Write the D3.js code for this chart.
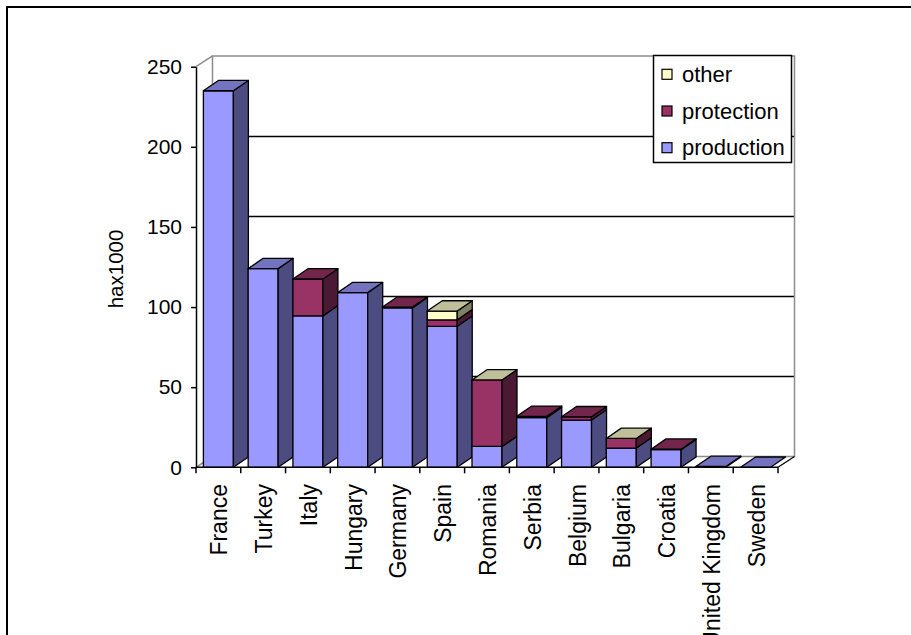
<!DOCTYPE html>
<html>
<head>
<meta charset="utf-8">
<script src="https://cdn.jsdelivr.net/npm/d3@7/dist/d3.min.js"></script>
<style>
  html, body { margin: 0; padding: 0; background: #fff; }
  svg { display: block; }
  text { font-family: Arial, "Liberation Sans", sans-serif; fill: #000; }
</style>
</head>
<body>
<svg id="chart" width="911" height="635"></svg>
<script>
// ---- data ----
const categories = ["France","Turkey","Italy","Hungary","Germany","Spain","Romania","Serbia","Belgium","Bulgaria","Croatia","United Kingdom","Sweden"];
const production = [235, 124, 94.5, 109, 99.5, 88, 13, 31, 29.5, 12, 11, 0.5, 0];
const protection = [null, null, 23, null, 0.5, 4, 41.5, 0.8, 2, 6, 0.3, null, null];
const other      = [null, null, null, null, null, 5.5, 0, null, null, 0, null, null, null];
const seriesNames = ["production", "protection", "other"];
const yTicks = [0, 50, 100, 150, 200, 250];
const yTitle = "hax1000";

// ---- styles ----
const colors = {
  production: { front: "#9999FF", side: "#4C4C80", top: "#7373BF" },
  protection: { front: "#993366", side: "#4C1933", top: "#73264C" },
  other:      { front: "#FFFFCC", side: "#808066", top: "#BFBF99" }
};
const seriesData = { production, protection, other };

const svg = d3.select("#chart");

// outer border
svg.append("rect").attr("x", 7).attr("y", 7).attr("width", 1000).attr("height", 1000)
  .attr("fill", "none").attr("stroke", "#000").attr("stroke-width", 2);

const x0 = 196, x1 = 778;
const y = d3.scaleLinear().domain([0, 250]).range([467.3, 66.7]);
const x = d3.scaleBand().domain(categories).range([x0, x1]).paddingInner(0.33).paddingOuter(0.165);
const wall = { dx: 16.5, dy: -10.8 };
const bar = { dx: 15, dy: -10.3 };

const g = svg.append("g");

// back wall
const wx0 = x0 + wall.dx, wx1 = x1 + wall.dx;
g.append("rect").attr("x", wx0).attr("y", y(250) + wall.dy).attr("width", wx1 - wx0)
  .attr("height", y(0) - y(250)).attr("fill", "#fff");
// gridlines
g.selectAll("line.grid").data(yTicks.filter(t => t > 0 && t < 250)).enter().append("line")
  .attr("x1", wx0).attr("x2", wx1)
  .attr("y1", d => Math.round(y(d) + wall.dy) + 0.5).attr("y2", d => Math.round(y(d) + wall.dy) + 0.5)
  .attr("stroke", "#000").attr("stroke-width", 1.3);
// wall outline (gray)
const gray = "#8c8c8c";
const wallPath = d3.path();
wallPath.moveTo(wx0, y(0) + wall.dy); wallPath.lineTo(wx0, y(250) + wall.dy);
wallPath.lineTo(wx1, y(250) + wall.dy); wallPath.lineTo(wx1, y(0) + wall.dy);
wallPath.lineTo(wx0, y(0) + wall.dy);
g.append("path").attr("d", wallPath.toString()).attr("fill", "none").attr("stroke", gray).attr("stroke-width", 1.5);
// side diagonals at top-left and bottom-left
[250, 0].forEach(t => {
  g.append("line").attr("x1", x0).attr("y1", y(t)).attr("x2", wx0).attr("y2", y(t) + wall.dy)
    .attr("stroke", gray).attr("stroke-width", 1.5);
});
// floor right edge
g.append("line").attr("x1", x1).attr("y1", y(0)).attr("x2", wx1).attr("y2", y(0) + wall.dy)
  .attr("stroke", "#000").attr("stroke-width", 1.2);

// bars
const poly = pts => "M" + pts.map(p => p.join(",")).join("L") + "Z";
const bw = x.bandwidth();
categories.forEach((c, i) => {
  const bx = x(c);
  const segs = [];
  let base = 0;
  seriesNames.forEach(s => {
    const v = seriesData[s][i];
    if (v === null || v === undefined) return;
    segs.push({ s, y0: base, y1: base + v });
    base += v;
  });
  const bg = g.append("g");
  segs.forEach((sg, k) => {
    const col = colors[sg.s];
    const yb = y(sg.y0), yt = y(sg.y1);
    if (yb - yt > 0.01) {
      bg.append("path").attr("d", poly([[bx, yb], [bx + bw, yb], [bx + bw, yt], [bx, yt]]))
        .attr("fill", col.front).attr("stroke", "#000").attr("stroke-width", 1.3).attr("stroke-linejoin", "round");
      bg.append("path").attr("d", poly([[bx + bw, yb], [bx + bw + bar.dx, yb + bar.dy], [bx + bw + bar.dx, yt + bar.dy], [bx + bw, yt]]))
        .attr("fill", col.side).attr("stroke", "#000").attr("stroke-width", 1.3).attr("stroke-linejoin", "round");
    }
    if (k === segs.length - 1) {
      bg.append("path").attr("d", poly([[bx, yt], [bx + bw, yt], [bx + bw + bar.dx, yt + bar.dy], [bx + bar.dx, yt + bar.dy]]))
        .attr("fill", col.top).attr("stroke", "#000").attr("stroke-width", 1.3).attr("stroke-linejoin", "round");
    }
  });
});

// y axis
const yAxis = d3.axisLeft(y).tickValues(yTicks).tickSize(5).tickPadding(9).tickSizeOuter(0);
const ya = svg.append("g").attr("transform", `translate(${x0},0)`).call(yAxis);
ya.select(".domain").attr("stroke", "#000").attr("stroke-width", 1.5);
ya.selectAll(".tick line").attr("stroke", "#000").attr("stroke-width", 1.5);
ya.selectAll(".tick text").style("font-size", "21px").attr("font-family", "Arial, 'Liberation Sans', sans-serif");

// x axis (front floor edge) with ticks at category boundaries
const boundaries = categories.map(c => x(c) - x.step() * x.paddingInner() / 2).concat([x1]);
svg.append("line").attr("x1", x0).attr("x2", x1).attr("y1", y(0)).attr("y2", y(0))
  .attr("stroke", "#000").attr("stroke-width", 1.5);
svg.selectAll("line.xt").data(boundaries).enter().append("line")
  .attr("x1", d => d).attr("x2", d => d).attr("y1", y(0)).attr("y2", y(0) + 6)
  .attr("stroke", "#000").attr("stroke-width", 1.5);
svg.selectAll("text.cat").data(categories).enter().append("text")
  .attr("transform", d => `translate(${x(d) + bw / 2 + 1},484) rotate(-90)`)
  .attr("text-anchor", "end").attr("dominant-baseline", "central")
  .style("font-size", "23px").text(d => d);

// y title
svg.append("text").attr("transform", "translate(115,269) rotate(-90)")
  .attr("text-anchor", "middle").attr("dominant-baseline", "central")
  .style("font-size", "20.5px").text(yTitle);

// legend
const lg = svg.append("g");
lg.append("rect").attr("x", 653.5).attr("y", 55.5).attr("width", 138).attr("height", 107)
  .attr("fill", "#fff").attr("stroke", "#000").attr("stroke-width", 1.5);
const legendItems = ["other", "protection", "production"];
legendItems.forEach((s, k) => {
  const cy = 74.3 + k * 36.7;
  lg.append("rect").attr("x", 662).attr("y", cy - 5).attr("width", 10).attr("height", 10)
    .attr("fill", colors[s].front).attr("stroke", "#000").attr("stroke-width", 1.2);
  lg.append("text").attr("x", 682).attr("y", cy).attr("dominant-baseline", "central")
    .style("font-size", "22px").text(s);
});
</script>
</body>
</html>
